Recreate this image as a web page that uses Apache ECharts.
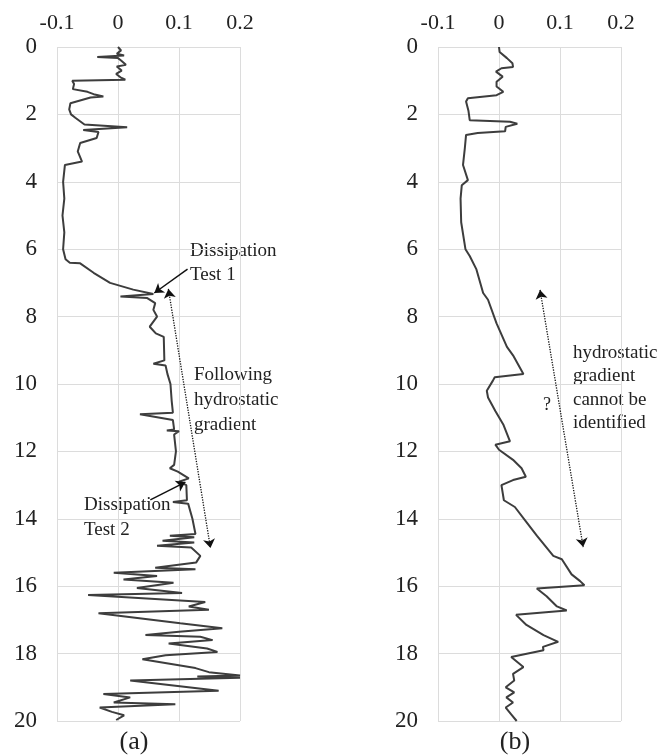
<!DOCTYPE html>
<html>
<head>
<meta charset="utf-8">
<script src="https://cdn.jsdelivr.net/npm/echarts@6/dist/echarts.min.js"></script>
<style>
html,body{margin:0;padding:0;background:#fff;}
#chart{width:660px;height:756px;}
</style>
</head>
<body>
<div id="chart"></div>
<script>
// ---- Data (depth in m, value) ----
var xTicks = [-0.1, 0, 0.1, 0.2];
var yTicks = [0, 2, 4, 6, 8, 10, 12, 14, 16, 18, 20];
var panelLabels = ['(a)', '(b)'];

var depthA = [0.00,0.10,0.20,0.25,0.30,0.33,0.40,0.53,0.58,0.70,0.80,0.90,0.97,1.00,1.10,1.25,1.33,1.40,1.47,1.50,1.67,1.85,2.00,2.10,2.30,2.38,2.46,2.52,2.70,2.85,3.10,3.40,3.50,4.00,4.50,5.00,5.50,6.00,6.30,6.40,6.42,6.70,7.00,7.20,7.33,7.40,7.45,7.60,7.80,8.00,8.30,8.50,8.60,9.30,9.40,9.45,9.70,10.00,10.50,10.85,10.90,11.07,11.35,11.38,11.40,11.50,12.00,12.40,12.50,12.60,12.80,12.90,13.00,13.45,13.50,13.55,14.00,14.45,14.50,14.55,14.65,14.70,14.80,14.85,15.10,15.30,15.45,15.50,15.60,15.70,15.80,15.90,16.05,16.20,16.26,16.47,16.60,16.70,16.80,17.10,17.25,17.35,17.45,17.50,17.60,17.70,17.85,17.95,18.05,18.17,18.43,18.55,18.65,18.68,18.72,18.80,19.10,19.20,19.30,19.45,19.50,19.60,19.73,19.83,19.97];
var valueA = [0.000,0.005,-0.002,0.010,-0.034,0.000,0.005,0.013,-0.002,0.006,-0.003,0.004,0.012,-0.075,-0.072,-0.074,-0.050,-0.040,-0.024,-0.045,-0.078,-0.080,-0.077,-0.070,-0.055,0.015,-0.057,-0.032,-0.035,-0.062,-0.066,-0.059,-0.087,-0.090,-0.088,-0.091,-0.088,-0.090,-0.086,-0.079,-0.062,-0.040,-0.013,0.025,0.058,0.004,0.048,0.061,0.058,0.064,0.052,0.062,0.075,0.076,0.058,0.078,0.081,0.086,0.088,0.090,0.036,0.090,0.092,0.080,0.100,0.092,0.095,0.092,0.085,0.098,0.116,0.100,0.112,0.113,0.090,0.115,0.122,0.127,0.085,0.125,0.073,0.125,0.064,0.120,0.135,0.128,0.061,0.127,-0.007,0.064,0.009,0.091,0.031,0.105,-0.049,0.143,0.116,0.149,-0.032,0.102,0.171,0.100,0.045,0.135,0.155,0.083,0.146,0.163,0.078,0.040,0.127,0.149,0.200,0.130,0.200,0.020,0.165,-0.024,0.020,-0.007,0.094,-0.030,-0.010,0.010,-0.003];

var depthB = [0.00,0.15,0.33,0.48,0.59,0.63,0.73,0.88,1.03,1.17,1.33,1.43,1.52,1.62,1.90,2.17,2.22,2.28,2.37,2.50,2.55,2.61,3.00,3.50,3.95,4.10,4.50,5.20,6.00,6.20,6.60,7.30,7.50,8.20,8.90,9.15,9.70,9.80,9.90,10.20,10.40,10.80,11.20,11.70,11.80,11.95,12.25,12.50,12.75,12.85,13.00,13.45,13.65,14.10,14.50,15.10,15.20,15.65,15.85,15.97,16.07,16.30,16.60,16.72,16.85,17.15,17.45,17.65,17.80,17.90,18.10,18.40,18.60,18.80,19.00,19.15,19.30,19.45,19.60,19.80,20.00];
var valueB = [0.000,0.001,0.013,0.022,0.023,0.004,-0.005,0.006,-0.004,-0.004,0.007,-0.004,-0.051,-0.054,-0.050,-0.048,0.018,0.030,0.011,0.010,-0.035,-0.054,-0.056,-0.059,-0.051,-0.061,-0.063,-0.062,-0.055,-0.048,-0.037,-0.026,-0.018,-0.004,0.013,0.023,0.040,-0.007,-0.010,-0.020,-0.018,-0.006,0.007,0.018,-0.006,0.000,0.023,0.037,0.044,0.023,0.004,0.008,0.026,0.045,0.062,0.089,0.103,0.119,0.133,0.140,0.062,0.078,0.095,0.111,0.028,0.045,0.073,0.097,0.072,0.073,0.020,0.040,0.023,0.025,0.011,0.025,0.012,0.023,0.011,0.020,0.029];

// annotation arrows: [x1, d1, x2, d2]
var arrowTest1 = [0.114, 6.59, 0.0595, 7.30];
var arrowTest2 = [0.053, 13.44, 0.1105, 12.91];
var dottedA = [0.0826, 7.18, 0.1516, 14.87];
var dottedB = [0.0673, 7.21, 0.138, 14.84];

var textA1 = ['Dissipation', 'Test 1'];
var textA2 = ['Following', 'hydrostatic', 'gradient'];
var textA3 = ['Dissipation', 'Test 2'];
var textB1 = ['hydrostatic', 'gradient', 'cannot be', 'identified'];
var textB2 = '?';

// ---- Build ----
function zip(xs, ys){ var o=[]; for (var i=0;i<xs.length;i++) o.push([xs[i], ys[i]]); return o; }
var FONT = 'Liberation Serif';
var INK = '#222';

function arrow(a, dotted){
  return [
    {coord:[a[0],a[1]], symbol: dotted ? 'arrow' : 'none'},
    {coord:[a[2],a[3]], symbol:'arrow',
     lineStyle:{type: dotted ? 'dotted' : 'solid', width: dotted ? 1.3 : 1.5, color:'#111'}}
  ];
}

function xAxisCfg(gi){
  return {
    gridIndex: gi, type:'value', position:'top',
    min: xTicks[0], max: xTicks[xTicks.length-1], interval: 0.1,
    axisLine:{show:false}, axisTick:{show:false},
    axisLabel:{fontFamily:FONT, fontSize:22, color:INK, margin:13,
      formatter:function(v){ return String(Math.round(v*10)/10); }},
    splitLine:{show:true, lineStyle:{color:'#dcdcdc', width:1}}
  };
}
function yAxisCfg(gi){
  return {
    gridIndex: gi, type:'value', inverse:true,
    min: yTicks[0], max: yTicks[yTicks.length-1], interval: 2,
    axisLine:{show:false}, axisTick:{show:false},
    axisLabel:{fontFamily:FONT, fontSize:23, color:INK, margin:20},
    splitLine:{show:true, lineStyle:{color:'#dcdcdc', width:1}}
  };
}

function textLines(lines, x, y0, step){
  return lines.map(function(t, i){
    return {type:'text', left:x, top:y0 + i*step - 11.5,
      style:{text:t, font:'19px "Liberation Serif"', fill:INK}};
  });
}

var graphics = []
  .concat(textLines(textA1, 190, 253, 24.5))
  .concat(textLines(textA2, 194, 377, 25))
  .concat(textLines(textA3, 84, 507, 25))
  .concat(textLines(textB1, 573, 355, 23.5))
  .concat([{type:'text', left:543, top:396, style:{text:textB2, font:'18px "Liberation Serif"', fill:INK}}])
  .concat([
    {type:'text', x:134, y:742, style:{text:panelLabels[0], font:'26px "Liberation Serif"', fill:INK, align:'center', verticalAlign:'middle'}},
    {type:'text', x:515, y:742, style:{text:panelLabels[1], font:'26px "Liberation Serif"', fill:INK, align:'center', verticalAlign:'middle'}}
  ]);

var chart = echarts.init(document.getElementById('chart'));
chart.setOption({
  animation:false,
  backgroundColor:'#fff',
  grid:[
    {left:57, top:47, width:183, height:674},
    {left:438, top:47, width:183, height:674}
  ],
  xAxis:[xAxisCfg(0), xAxisCfg(1)],
  yAxis:[yAxisCfg(0), yAxisCfg(1)],
  series:[
    {type:'line', xAxisIndex:0, yAxisIndex:0, data:zip(valueA, depthA),
     showSymbol:false, symbol:'none', lineStyle:{color:'#3d3d3d', width:2}, clip:false,
     markLine:{silent:true, animation:false, symbolSize:9, label:{show:false},
       lineStyle:{color:'#111', width:1.5, type:'solid'},
       data:[arrow(arrowTest1,false), arrow(arrowTest2,false), arrow(dottedA,true)]}
    },
    {type:'line', xAxisIndex:1, yAxisIndex:1, data:zip(valueB, depthB),
     showSymbol:false, symbol:'none', lineStyle:{color:'#3d3d3d', width:2}, clip:false,
     markLine:{silent:true, animation:false, symbolSize:9, label:{show:false},
       lineStyle:{color:'#111', width:1.3, type:'dotted'},
       data:[arrow(dottedB,true)]}
    }
  ],
  graphic: graphics
});
</script>
</body>
</html>
